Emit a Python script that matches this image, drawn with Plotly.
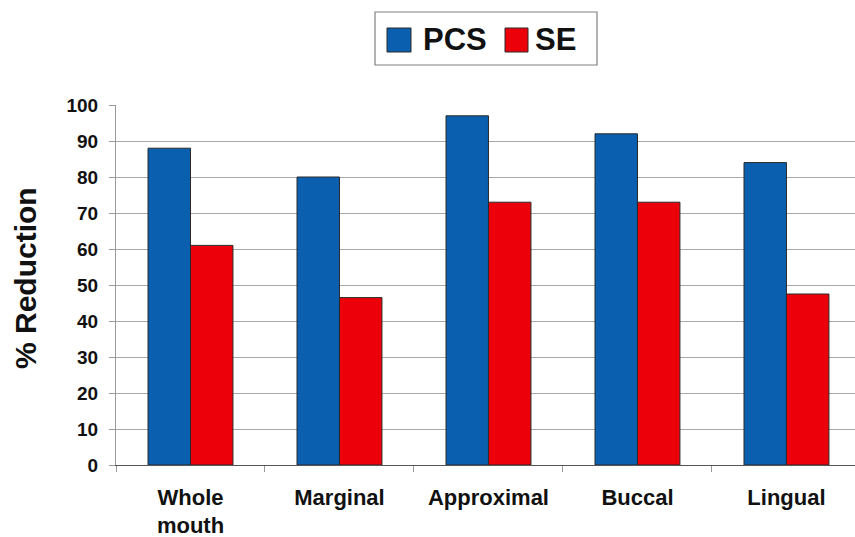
import plotly.graph_objects as go

# Reduction (%) by tooth surface for the two treatments
categories = ["Whole<br>mouth", "Marginal", "Approximal", "Buccal", "Lingual"]
pcs_values = [88, 80, 97, 92, 84]
se_values = [61, 46.5, 73, 73, 47.5]
series_names = ["PCS", "SE"]
y_ticks = [0, 10, 20, 30, 40, 50, 60, 70, 80, 90, 100]
grid_vals = [10, 20, 30, 40, 50, 60, 70, 80, 90]

BLUE = "#0a5fae"
RED = "#ec0009"
FONT = "Liberation Sans, Arial, sans-serif"

W, H = 855, 537
L, R, T, B = 116, 0, 105, 72
plot_w = W - L - R
plot_h = H - T - B


def px_x(p):
    return (p - L) / plot_w


def px_y(p):
    return (H - B - p) / plot_h


fig = go.Figure()
for name, vals, col in [(series_names[0], pcs_values, BLUE), (series_names[1], se_values, RED)]:
    fig.add_trace(go.Bar(
        x=categories, y=vals, name=name,
        marker=dict(color=col, line=dict(color="#2a2a2a", width=1)),
        showlegend=False,
    ))

# Legend box drawn by hand so the swatches can be large
shapes = [
    dict(type="rect", xref="paper", yref="paper",
         x0=px_x(375), x1=px_x(597), y0=px_y(65), y1=px_y(12),
         line=dict(color="#808080", width=1.2), fillcolor="white"),
    dict(type="rect", xref="paper", yref="paper",
         x0=px_x(387), x1=px_x(411), y0=px_y(52), y1=px_y(28),
         line=dict(color="#2a2a2a", width=1), fillcolor=BLUE),
    dict(type="rect", xref="paper", yref="paper",
         x0=px_x(505), x1=px_x(528), y0=px_y(52), y1=px_y(28),
         line=dict(color="#2a2a2a", width=1), fillcolor=RED),
]
annotations = [
    dict(text="<b>PCS</b>", xref="paper", yref="paper", x=px_x(421), y=px_y(40),
         xanchor="left", yanchor="middle", showarrow=False,
         font=dict(family=FONT, size=31, color="#111")),
    dict(text="<b>SE</b>", xref="paper", yref="paper", x=px_x(533), y=px_y(40),
         xanchor="left", yanchor="middle", showarrow=False,
         font=dict(family=FONT, size=31, color="#111")),
    dict(text="<b>% Reduction</b>", xref="paper", yref="paper", x=px_x(25), y=px_y(278),
         xanchor="center", yanchor="middle", textangle=-90, showarrow=False,
         font=dict(family=FONT, size=30, color="#111")),
]

fig.update_layout(
    width=W, height=H,
    margin=dict(l=L, r=R, t=T, b=B, pad=0),
    paper_bgcolor="white", plot_bgcolor="white",
    barmode="group", bargap=0.43, bargroupgap=0,
    shapes=shapes, annotations=annotations,
    font=dict(family=FONT, color="#111"),
)
fig.update_xaxes(
    range=[-0.5, 4.46],
    showline=True, linecolor="#555", linewidth=1.2,
    ticks="outside", tickson="boundaries", ticklen=6, tickcolor="#999",
    showgrid=False,
    tickfont=dict(family=FONT, size=22, color="#111", weight="bold"),
    ticklabelstandoff=12,
)
fig.update_yaxes(
    range=[0, 100], tickvals=y_ticks,
    showline=True, linecolor="#999", linewidth=1,
    ticks="outside", ticklen=6, tickcolor="#999",
    showgrid=False,
    minor=dict(tickvals=grid_vals, showgrid=True, gridcolor="#a8a8a8",
               gridwidth=1, ticks=""),
    zeroline=False,
    tickfont=dict(family=FONT, size=19, color="#111", weight="bold"),
    ticklabelstandoff=7,
)

fig.write_html("out.html")
